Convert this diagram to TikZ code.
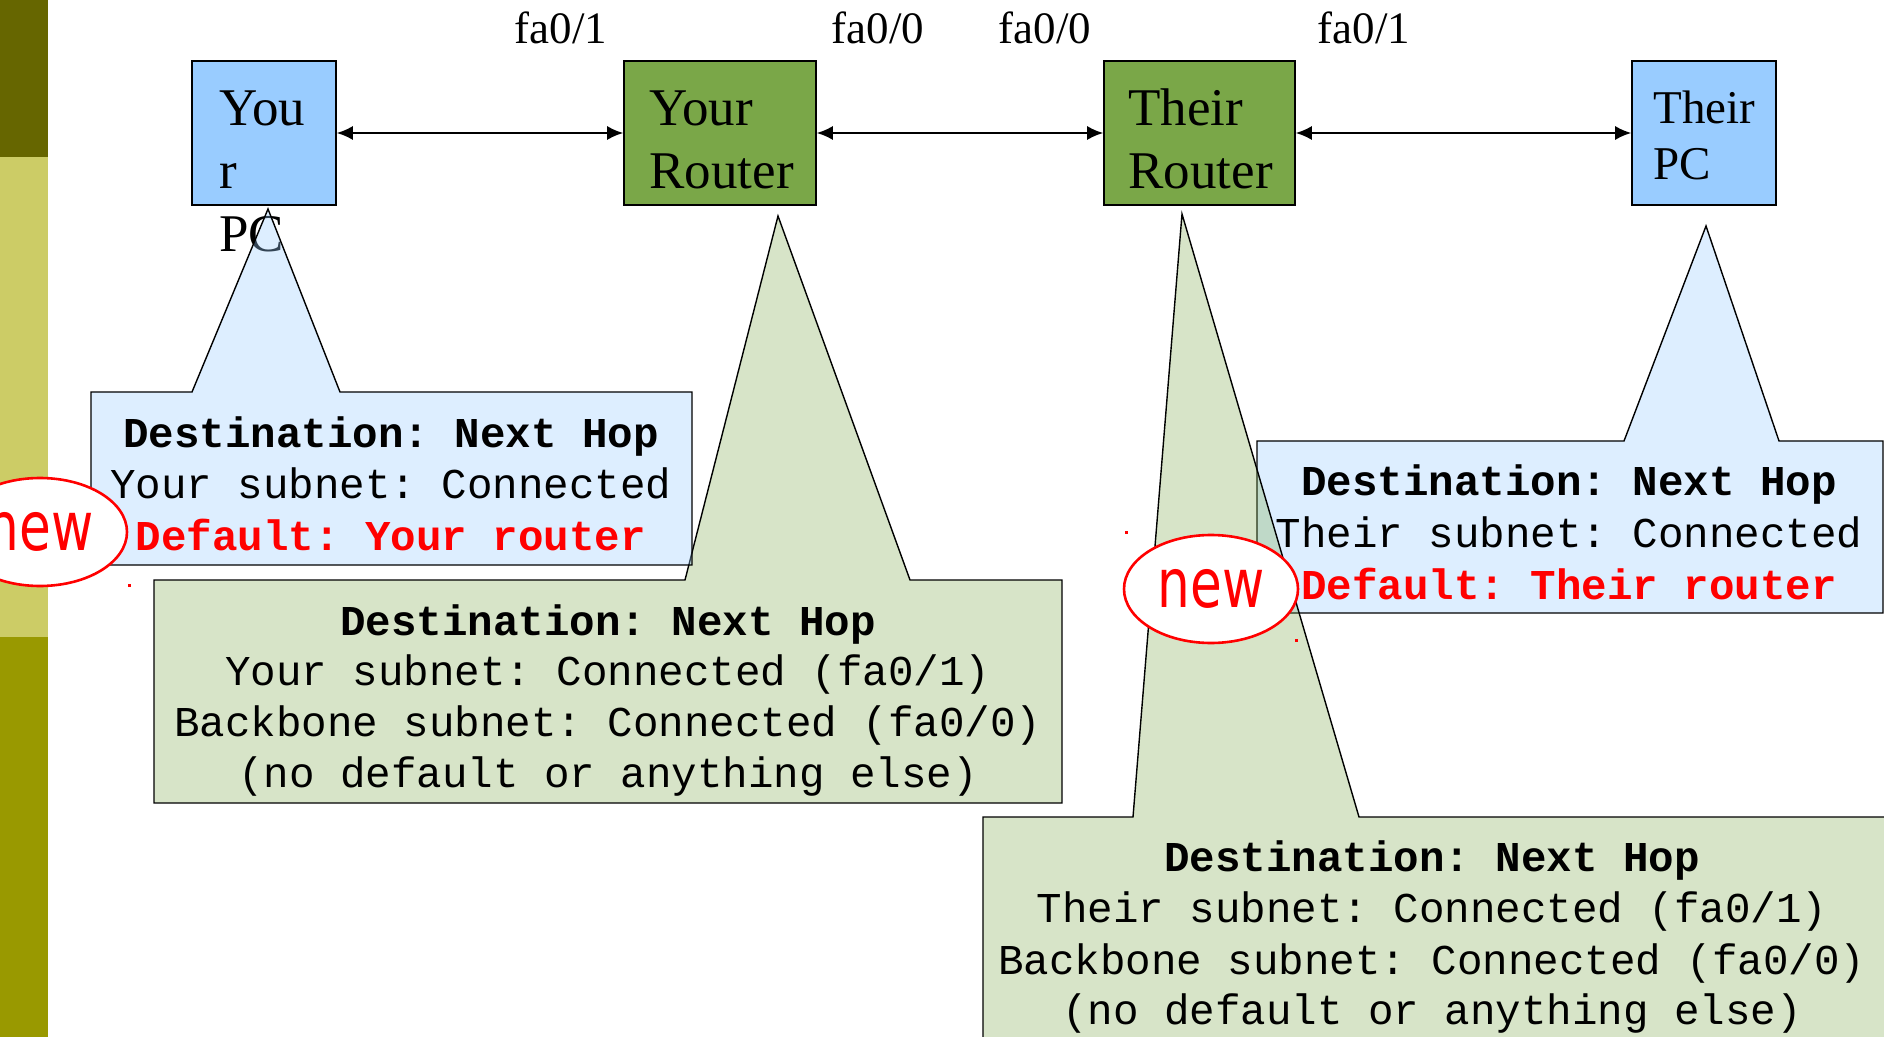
\documentclass[tikz,border=0pt]{standalone}
\usepackage{fontspec}
\setmainfont{Liberation Serif}
\newfontfamily\monofam{Liberation Mono}
\newfontfamily\markfam{DejaVu Sans}
\usepackage{graphicx}
\usetikzlibrary{arrows.meta,shapes.geometric}
\definecolor{pcblue}{HTML}{99CCFF}
\definecolor{rgreen}{HTML}{7AA748}
\definecolor{bardark}{HTML}{666600}
\definecolor{barlight}{HTML}{CCCC66}
\definecolor{barmid}{HTML}{999900}
\frenchspacing
\begin{document}
\begin{tikzpicture}[x=0.5pt,y=-0.5pt,
  pcbox/.style={draw, line width=0.8pt, fill=pcblue, minimum width=72pt, minimum height=72pt, inner sep=0pt},
  rbox/.style={draw, line width=0.8pt, fill=rgreen, minimum width=96pt, minimum height=72pt, inner sep=0pt},
  boxtxt/.style={font=\fontsize{26.5}{31.5}\selectfont, anchor=base west, inner sep=0pt},
  smalltxt/.style={font=\fontsize{23.5}{28}\selectfont, anchor=base west, inner sep=0pt},
  port/.style={font=\fontsize{22.5}{27}\selectfont, anchor=base, inner sep=0pt},
  link/.style={{Latex[length=8pt,width=7pt]}-{Latex[length=8pt,width=7pt]}, line width=0.9pt},
  callblue/.style={draw, line width=0.7pt, fill=pcblue, fill opacity=0.333},
  callgreen/.style={draw, line width=0.7pt, fill=rgreen, fill opacity=0.3},
  tabhead/.style={font=\monofam\bfseries\fontsize{21.25}{25.5}\selectfont, anchor=base, inner sep=0pt},
  tabrow/.style={font=\monofam\fontsize{21.25}{25.5}\selectfont, anchor=base, inner sep=0pt},
  tabnew/.style={tabhead, text=red},
  newmark/.style={ellipse, draw=red, line width=1.3pt, fill=white, minimum width=87pt, minimum height=54pt, inner sep=0pt, text=red, font=\markfam\fontsize{34}{40}\selectfont}
]
\useasboundingbox (0,0) rectangle (1884,1037);
\clip (0,0) rectangle (1884,1037);
% side bar
\fill[bardark] (0,0) rectangle (48,157);
\fill[barlight] (0,157) rectangle (48,637);
\fill[barmid] (0,637) rectangle (48,1037);

% devices
\node[pcbox] (ypc) at (264,133) {};
\node[rbox] (yr) at (720,133) {};
\node[rbox, minimum width=95.5pt] (tr) at (1199.5,133) {};
\node[pcbox] (tpc) at (1704,133) {};

\node[boxtxt] (ypc1) at (219,126) {You};
\node[boxtxt] (ypc2) at (219,189) {r};
\node[boxtxt] (ypc3) at (219,252) {PC};
\node[boxtxt] (yr1) at (649,126) {Your};
\node[boxtxt] (yr2) at (649,189) {Router};
\node[boxtxt] (tr1) at (1128,126) {Their};
\node[boxtxt] (tr2) at (1128,189) {Router};
\node[smalltxt] (tpc1) at (1653,124) {Their};
\node[smalltxt] (tpc2) at (1653,180) {PC};

% ports
\node[port] (p1) at (561,44) {fa0/1};
\node[port] (p2) at (878,44) {fa0/0};
\node[port] (p3) at (1045,44) {fa0/0};
\node[port] (p4) at (1364,44) {fa0/1};

% links
\draw[link] (ypc.east) -- (yr.west);
\draw[link] (yr.east) -- (tr.west);
\draw[link] (tr.east) -- (tpc.west);

% callouts
\path[callgreen] (154,580) -- (685,580) -- (778,216) -- (910,580) -- (1062,580) -- (1062,803) -- (154,803) -- cycle;
\path[callblue] (91,392) -- (192,392) -- (268,209) -- (340,392) -- (692,392) -- (692,565) -- (91,565) -- cycle;
\path[callblue] (1257,441) -- (1624,441) -- (1706,226) -- (1779,441) -- (1883,441) -- (1883,613) -- (1257,613) -- cycle;
\path[callgreen] (983,817) -- (1133,817) -- (1182,214) -- (1359,817) -- (1895,817) -- (1895,1050) -- (983,1050) -- cycle;

% table: your PC
\node[tabhead] (a1) at (391,447) {Destination: Next Hop};
\node[tabrow] (a2) at (391,498) {Your subnet: Connected};
\node[tabnew] (a3) at (391,550) {Default: Your router};
% table: your router
\node[tabhead] (b1) at (608,635) {Destination: Next Hop};
\node[tabrow] (b2) at (608,685) {Your subnet: Connected (fa0/1)};
\node[tabrow] (b3) at (608,736) {Backbone subnet: Connected (fa0/0)};
\node[tabrow] (b4) at (608,787) {(no default or anything else)};
% table: their PC
\node[tabhead] (c1) at (1569,495) {Destination: Next Hop};
\node[tabrow] (c2) at (1569,547) {Their subnet: Connected};
\node[tabnew] (c3) at (1569,599) {Default: Their router};
% table: their router
\node[tabhead] (d1) at (1432,871) {Destination: Next Hop};
\node[tabrow] (d2) at (1432,922) {Their subnet: Connected (fa0/1)};
\node[tabrow] (d3) at (1432,974) {Backbone subnet: Connected (fa0/0)};
\node[tabrow] (d4) at (1432,1024) {(no default or anything else)};

% new marks
\node[newmark] (new1) at (40,532) {\scalebox{0.76}[1]{new}};
\node[newmark] (new2) at (1211,589) {\scalebox{0.76}[1]{new}};
\fill[red] (127.5,583.5) rectangle ++(3,3);
\fill[red] (1124.5,530.5) rectangle ++(3,3);
\fill[red] (1294.5,638.5) rectangle ++(3,3);
\end{tikzpicture}
\end{document}
